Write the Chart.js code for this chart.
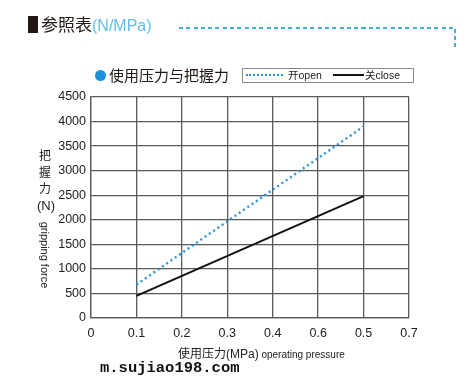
<!DOCTYPE html>
<html>
<head>
<meta charset="utf-8">
<script src="https://cdn.jsdelivr.net/npm/chart.js@4"></script>
<style>
  html, body { margin: 0; padding: 0; background: #fff; }
  #wrap { position: relative; width: 466px; height: 385px; overflow: hidden;
          font-family: "Noto Sans CJK SC", "Liberation Sans", sans-serif; color: #222; }
  #chart { position: absolute; left: 0; top: 0; }
  .abs { position: absolute; white-space: nowrap; }
  .lat { font-family: "Liberation Sans", sans-serif; }
</style>
</head>
<body>
<div id="wrap">
  <canvas id="chart" width="466" height="385"></canvas>

  <!-- header -->
  <div class="abs" style="left:28px;top:16px;width:10px;height:17px;background:#231815"></div>
  <div class="abs" style="left:41px;top:12px;font-size:17px;line-height:24px;color:#231815">参照表<span class="lat" style="color:#62bfe8;font-size:16px">(N/MPa)</span></div>
  <div class="abs" style="left:179px;top:27px;width:277px;height:2px;background:repeating-linear-gradient(90deg,#3fb0dc 0 4px,transparent 4px 7.3px)"></div>
  <div class="abs" style="left:454px;top:29px;width:2px;height:18px;background:repeating-linear-gradient(180deg,#3fb0dc 0 4px,transparent 4px 7px)"></div>

  <!-- subtitle -->
  <div class="abs" style="left:95px;top:70px;width:11px;height:11px;border-radius:50%;background:#1a93dc"></div>
  <div class="abs" style="left:109px;top:64px;font-size:15px;line-height:22px;color:#231815">使用压力与把握力</div>

  <!-- legend -->
  <div class="abs" style="left:242px;top:68px;width:170px;height:13px;border:1px solid #888"></div>
  <div class="abs" style="left:246px;top:74px;width:37px;border-top:2px dotted #2a93d5"></div>
  <div class="abs" style="left:288px;top:67px;font-size:10.5px;line-height:15px">开<span class="lat">open</span></div>
  <div class="abs" style="left:333px;top:74px;width:31px;border-top:2px solid #111"></div>
  <div class="abs" style="left:365px;top:67px;font-size:10.5px;line-height:15px">关<span class="lat">close</span></div>

  <!-- y title -->
  <div class="abs" style="left:37px;top:147px;width:16px;font-size:12px;line-height:16.5px;text-align:center">把<br>握<br>力<br><span class="lat" style="font-size:13px">(N)</span></div>
  <div class="abs lat" style="left:8px;top:249px;width:74px;text-align:center;font-size:11px;line-height:12px;transform:rotate(90deg)">gripping force</div>

  <!-- x title -->
  <div class="abs" style="left:178px;top:345px;font-size:12px;line-height:16px">使用压力<span class="lat">(MPa)</span> <span class="lat" style="font-size:10px">operating pressure</span></div>
  <div class="abs" style="left:100px;top:359px;font-family:'Liberation Mono',monospace;font-weight:bold;font-size:15.5px;line-height:18px;color:#111">m.sujiao198.com</div>
</div>

<script>
// --- data ---
const xTickLabels = ["0", "0.1", "0.2", "0.3", "0.4", "0.6", "0.5", "0.7"];
const pressure = ["0.1", "0.5"];
const openForce = [680, 3900];
const closeForce = [450, 2480];

// x positions follow the printed tick labels (the original has 0.6 / 0.5 swapped)
const toPoints = vals => vals.map((v, i) => ({ x: xTickLabels.indexOf(pressure[i]), y: v }));

const gridColor = "#5a5a5a";

new Chart(document.getElementById("chart"), {
  type: "line",
  data: {
    datasets: [
      {
        label: "开open",
        data: toPoints(openForce),
        borderColor: "#2a93d5",
        borderWidth: 2.4,
        borderDash: [2, 3.2],
        pointRadius: 0,
        tension: 0
      },
      {
        label: "关close",
        data: toPoints(closeForce),
        borderColor: "#111",
        borderWidth: 2,
        pointRadius: 0,
        tension: 0
      }
    ]
  },
  options: {
    responsive: false,
    animation: false,
    layout: { padding: { top: 97, right: 57, left: 0, bottom: 0 } },
    plugins: { legend: { display: false }, tooltip: { enabled: false } },
    scales: {
      x: {
        type: "linear",
        min: 0,
        max: 7,
        afterFit: s => { s.height = 67; },
        grid: { color: gridColor, lineWidth: 1.3, drawTicks: false },
        border: { color: gridColor, width: 1.3 },
        ticks: {
          stepSize: 1,
          padding: 8,
          color: "#222",
          font: { family: "Liberation Sans", size: 12.5 },
          callback: v => xTickLabels[v]
        }
      },
      y: {
        min: 0,
        max: 4500,
        afterFit: s => { s.width = 91; },
        grid: { color: gridColor, lineWidth: 1.3, drawTicks: false },
        border: { color: gridColor, width: 1.3 },
        ticks: {
          stepSize: 500,
          padding: 5,
          color: "#222",
          font: { family: "Liberation Sans", size: 12.5 },
          callback: v => String(v)
        }
      }
    }
  }
});
</script>
</body>
</html>
